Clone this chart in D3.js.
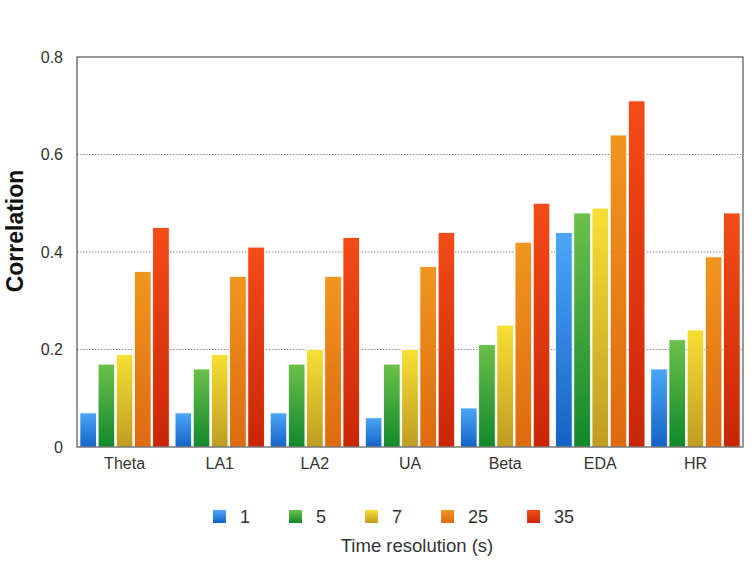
<!DOCTYPE html>
<html><head><meta charset="utf-8">
<script src="https://cdn.jsdelivr.net/npm/d3@7"></script>
<style>body{margin:0;background:#fff}svg{display:block}text{font-family:"Liberation Sans",Arial,sans-serif}</style>
</head><body>
<script>
const categories = ["Theta","LA1","LA2","UA","Beta","EDA","HR"];
const seriesNames = ["1","5","7","25","35"];
const s1  = [0.07,0.07,0.07,0.06,0.08,0.44,0.16];
const s5  = [0.17,0.16,0.17,0.17,0.21,0.48,0.22];
const s7  = [0.19,0.19,0.20,0.20,0.25,0.49,0.24];
const s25 = [0.36,0.35,0.35,0.37,0.42,0.64,0.39];
const s35 = [0.45,0.41,0.43,0.44,0.50,0.71,0.48];
const yTicks = [0,0.2,0.4,0.6,0.8];
const tickLabels = ["0","0.2","0.4","0.6","0.8"];
const series = [s1,s5,s7,s25,s35];
const colors = [["#4ca6f7","#1462c6"],["#6cc04a","#11882c"],["#f7e034","#bf9c22"],["#f0961f","#de6a10"],["#f34c18","#c92606"]];

const W=754,H=581;
const m={left:77,right:11,top:57,bottom:134};
const svg=d3.select("body").append("svg").attr("width",W).attr("height",H);
const defs=svg.append("defs");
colors.forEach((c,i)=>{
  const g=defs.append("linearGradient").attr("id","g"+i).attr("x1",0).attr("y1",0).attr("x2",0).attr("y2",1);
  g.append("stop").attr("offset","0%").attr("stop-color",c[0]);
  g.append("stop").attr("offset","100%").attr("stop-color",c[1]);
});
const x=d3.scaleBand().domain(categories).range([m.left,W-m.right]).padding(0);
const xs=d3.scaleBand().domain(seriesNames).range([0,x.bandwidth()]).paddingInner(0.09).paddingOuter(0.16);
const y=d3.scaleLinear().domain([0,0.8]).range([H-m.bottom,m.top]);

// grid
svg.append("g").selectAll("line").data(yTicks.filter(t=>t>0&&t<0.8)).join("line")
  .attr("x1",m.left).attr("x2",W-m.right).attr("y1",d=>y(d)).attr("y2",d=>y(d))
  .attr("stroke","#8a8a8a").attr("stroke-width",1).attr("stroke-dasharray","1.5,1.5");

// bars
series.forEach((vals,si)=>{
  svg.append("g").selectAll("rect").data(vals).join("rect")
    .attr("x",(d,i)=>x(categories[i])+xs(seriesNames[si]))
    .attr("width",xs.bandwidth())
    .attr("y",d=>y(d)).attr("height",d=>y(0)-y(d))
    .attr("fill","url(#g"+si+")").attr("stroke","#fff").attr("stroke-width",0.8);
});

// frame
svg.append("rect").attr("x",m.left).attr("y",m.top).attr("width",W-m.right-m.left).attr("height",H-m.bottom-m.top)
  .attr("fill","none").attr("stroke","#555").attr("stroke-width",1.2);

// y axis labels
const ya=d3.axisLeft(y).tickValues(yTicks).tickFormat((d,i)=>tickLabels[i]).tickSize(0).tickPadding(14);
const yg=svg.append("g").attr("transform",`translate(${m.left},0)`).call(ya);
yg.select(".domain").remove();
yg.selectAll("text").attr("font-size",16).attr("fill","#333").attr("font-family","Liberation Sans, Arial, sans-serif");

// x axis labels
const xa=d3.axisBottom(x).tickSize(0).tickPadding(11);
const xg=svg.append("g").attr("transform",`translate(0,${H-m.bottom})`).call(xa);
xg.select(".domain").remove();
xg.selectAll("text").attr("font-size",16).attr("fill","#333").attr("font-family","Liberation Sans, Arial, sans-serif");

// y title
svg.append("text").attr("transform","translate(23,231) rotate(-90)").attr("text-anchor","middle")
  .attr("font-size",23).attr("font-weight","bold").attr("fill","#111").text("Correlation");

// legend
const lg=svg.append("g");
let lx=213;
seriesNames.forEach((n,i)=>{
  lg.append("rect").attr("x",lx).attr("y",510).attr("width",13).attr("height",13).attr("fill","url(#g"+i+")");
  const t=lg.append("text").attr("x",lx+27).attr("y",523).attr("font-size",18).attr("fill","#333").text(n);
  lx+=13+14+t.node().getComputedTextLength()+39;
});
svg.append("text").attr("x",417).attr("y",552).attr("text-anchor","middle").attr("font-size",18.5).attr("fill","#333").text("Time resolution (s)");
</script>
</body></html>
